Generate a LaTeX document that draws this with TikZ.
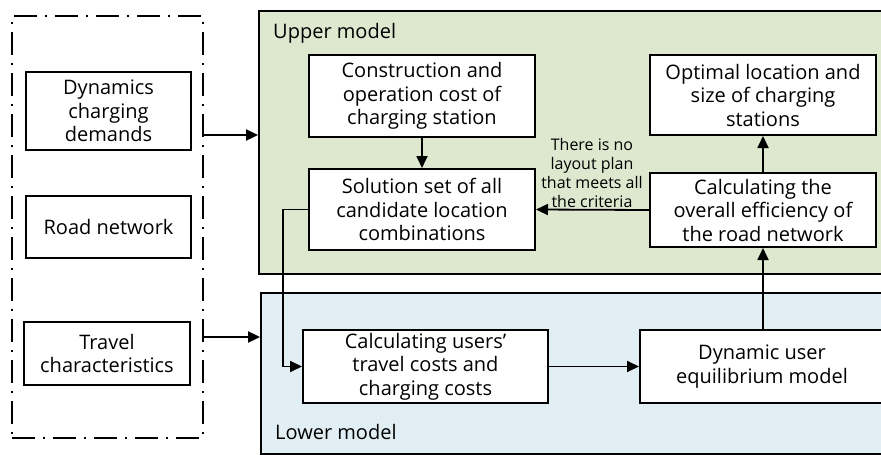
\documentclass[tikz,border=0pt]{standalone}
\usepackage{fontspec}
\setmainfont{Open Sans}
\usetikzlibrary{arrows.meta,fit}
\definecolor{uppergreen}{RGB}{222,232,207}
\definecolor{lowerblue}{RGB}{225,239,245}
\begin{document}
\begin{tikzpicture}[x=1pt,y=-1pt,
  box/.style={draw=black,line width=2pt,fill=white,inner sep=0pt,align=center,
    font=\fontsize{20}{23.5}\selectfont},
  region/.style={draw=black,line width=1.8pt,inner sep=0pt},
  arr/.style={line width=1.8pt,-{Triangle[length=12pt,width=11pt]}},
  lbl/.style={font=\fontsize{20}{23.5}\selectfont,anchor=west,inner sep=0pt},
  note/.style={font=\fontsize{16}{19}\selectfont,align=center,inner sep=0pt}]
\useasboundingbox (0,0) rectangle (881,455);
\clip (0,0) rectangle (881,455);
% regions
\node[region,fill=uppergreen,minimum width=631pt,minimum height=263pt] (upper) at (574.5,142.5) {};
\node[region,fill=lowerblue,minimum width=629pt,minimum height=161pt] (lower) at (575.5,373.5) {};
\node[lbl] (uplbl) at (273,33) {Upper model};
\node[lbl] (lowlbl) at (275,432) {Lower model};
% input boxes
\node[box,minimum width=165pt,minimum height=78pt] (dyn) at (108.5,111) {Dynamics\\charging\\demands};
\node[box,minimum width=165pt,minimum height=62pt] (road) at (108.5,227) {Road network};
\node[box,minimum width=166pt,minimum height=63pt] (travel) at (107,353.5) {Travel\\characteristics};
\node[draw=black,line width=1.6pt,dash pattern=on 23pt off 8pt on 2pt off 8pt,
  minimum width=191pt,minimum height=422pt,inner sep=0pt] (inputs) at (107.5,227) {};
% upper model boxes
\node[box,minimum width=226pt,minimum height=82pt] (cons) at (422,96) {Construction and\\operation cost of\\charging station};
\node[box,minimum width=226pt,minimum height=81pt] (sol) at (422,209.5) {Solution set of all\\candidate location\\combinations};
\node[box,minimum width=226pt,minimum height=80pt] (opt) at (763,95) {Optimal location and\\size of charging\\stations};
\node[box,minimum width=226pt,minimum height=74pt] (eff) at (763,210) {Calculating the\\overall efficiency of\\the road network};
% lower model boxes
\node[box,minimum width=245pt,minimum height=73pt] (users) at (425.5,366.5) {Calculating users’\\travel costs and\\charging costs};
\node[box,minimum width=244pt,minimum height=73pt] (due) at (762,366.5) {Dynamic user\\equilibrium model};
% note
\node[note] (nolayout) at (592,173) {There is no\\layout plan\\that meets all\\the criteria};
% connectors
\coordinate (in1) at (203,135);
\coordinate (in2) at (203,337);
\draw[arr] (in1) -- (in1 -| upper.west);
\draw[arr] (in2) -- (in2 -| lower.west);
\draw[arr] (cons.south) -- (sol.north);
\draw[arr] (eff.west) -- (sol.east);
\draw[arr] (eff.north) -- (opt.south);
\draw[arr] (eff.south |- due.north) -- (eff.south);
\coordinate (bend) at (283,209.5);
\draw[arr] (sol.west) -- (bend) -- (bend |- users.west) -- (users.west);
\draw[arr] (users.east) -- (due.west);
\end{tikzpicture}
\end{document}
